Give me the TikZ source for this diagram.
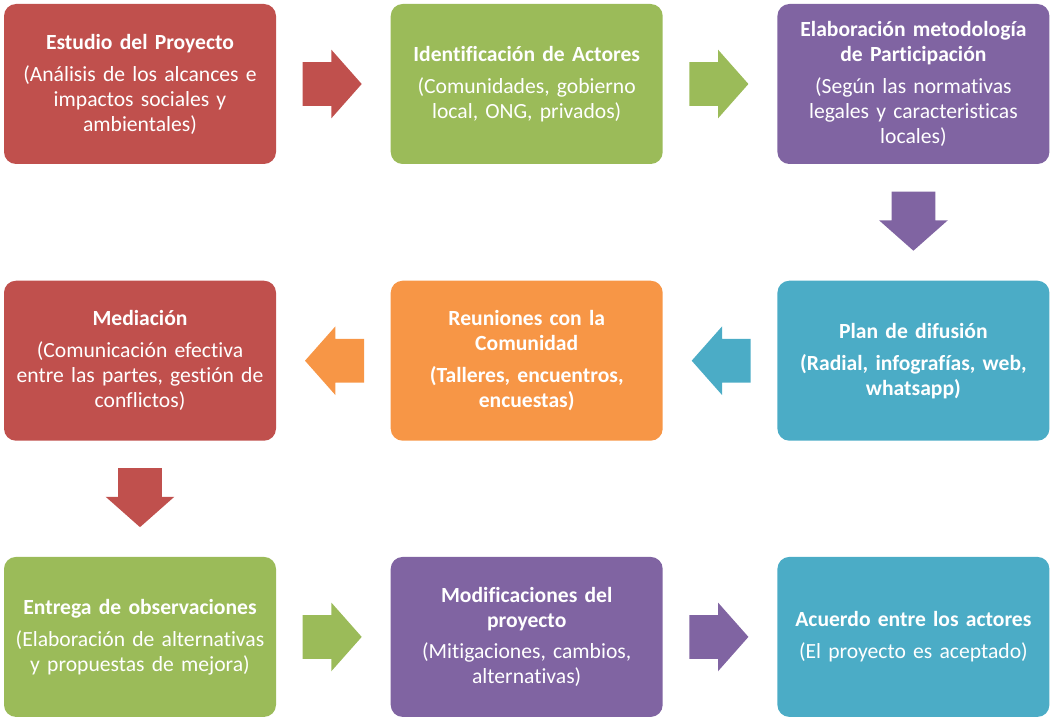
\documentclass[tikz,border=0pt]{standalone}
\usepackage{fontspec}
\setmainfont{Carlito}[Ligatures=NoCommon]
\usetikzlibrary{shapes.arrows, positioning, calc}
\definecolor{rojo}{HTML}{C0504D}
\definecolor{verde}{HTML}{9BBB59}
\definecolor{morado}{HTML}{8064A2}
\definecolor{naranja}{HTML}{F79646}
\definecolor{celeste}{HTML}{4BACC6}
\tikzstyle{etapa} = [rectangle, rounded corners=0.24cm, minimum width=5.44cm, minimum height=3.2cm, text width=5.04cm, inner sep=0.2cm, align=center, text=white, font=\fontsize{12.3}{14.2}\selectfont]
\tikzstyle{flecha} = [single arrow, anchor=tail, inner sep=0pt, text height=0.86cm, text depth=0pt, text width=0pt, minimum height=1.18cm, single arrow head extend=0.25cm, single arrow tip angle=97]

\begin{document}
\begin{tikzpicture}
\useasboundingbox (0, 0) rectangle (21.04, 14.42);

  % fila superior
  \node[etapa, fill=rojo] (estudio) at (2.80, 12.74) {\textbf{Estudio del Proyecto}\\[4pt]
    (Análisis de los alcances e\\ impactos sociales y\\ ambientales)};
  \node[etapa, fill=verde, right = 2.28cm of estudio] (actores) {\textbf{Identificación de Actores}\\[4pt]
    (Comunidades, gobierno\\ local, ONG, privados)};
  \node[etapa, fill=morado, right = 2.28cm of actores] (metodo) {\textbf{Elaboración metodología}\\ \textbf{de Participación}\\[4pt]
    (Según las normativas\\ legales y caracteristicas\\ locales)};

  % fila central
  \node[etapa, fill=celeste, below = 2.32cm of metodo] (difusion) {\textbf{Plan de difusión}\\[4pt]
    \textbf{(Radial, infografías, web,}\\ \textbf{whatsapp)}};
  \node[etapa, fill=naranja, left = 2.28cm of difusion] (reuniones) {\textbf{Reuniones con la}\\ \textbf{Comunidad}\\[4pt]
    \textbf{(Talleres, encuentros,}\\ \textbf{encuestas)}};
  \node[etapa, fill=rojo, left = 2.28cm of reuniones] (mediacion) {\textbf{Mediación}\\[4pt]
    (Comunicación efectiva\\ entre las partes, gestión de\\ conflictos)};

  % fila inferior
  \node[etapa, fill=verde, below = 2.31cm of mediacion] (entrega) {\textbf{Entrega de observaciones}\\[4pt]
    (Elaboración de alternativas\\ y propuestas de mejora)};
  \node[etapa, fill=morado, right = 2.28cm of entrega] (modif) {\textbf{Modificaciones del}\\ \textbf{proyecto}\\[4pt]
    (Mitigaciones, cambios,\\ alternativas)};
  \node[etapa, fill=celeste, right = 2.28cm of modif] (acuerdo) {\textbf{Acuerdo entre los actores}\\[4pt]
    (El proyecto es aceptado)};

  % flechas (ancladas por la cola)
  \node[flecha, fill=rojo] (f1) at ($(estudio.east)!0.5!(actores.west) + (-0.62, 0)$) {};
  \node[flecha, fill=verde] (f2) at ($(actores.east)!0.5!(metodo.west) + (-0.62, 0)$) {};
  \node[flecha, fill=morado, rotate=-90] (f3) at ($(metodo.south)!0.5!(difusion.north) + (0, 0.62)$) {};
  \node[flecha, fill=celeste, rotate=180] (f4) at ($(difusion.west)!0.5!(reuniones.east) + (0.62, 0)$) {};
  \node[flecha, fill=naranja, rotate=180] (f5) at ($(reuniones.west)!0.5!(mediacion.east) + (0.62, 0)$) {};
  \node[flecha, fill=rojo, rotate=-90] (f6) at ($(mediacion.south)!0.5!(entrega.north) + (0, 0.62)$) {};
  \node[flecha, fill=verde] (f7) at ($(entrega.east)!0.5!(modif.west) + (-0.62, 0)$) {};
  \node[flecha, fill=morado] (f8) at ($(modif.east)!0.5!(acuerdo.west) + (-0.62, 0)$) {};

\end{tikzpicture}
\end{document}
